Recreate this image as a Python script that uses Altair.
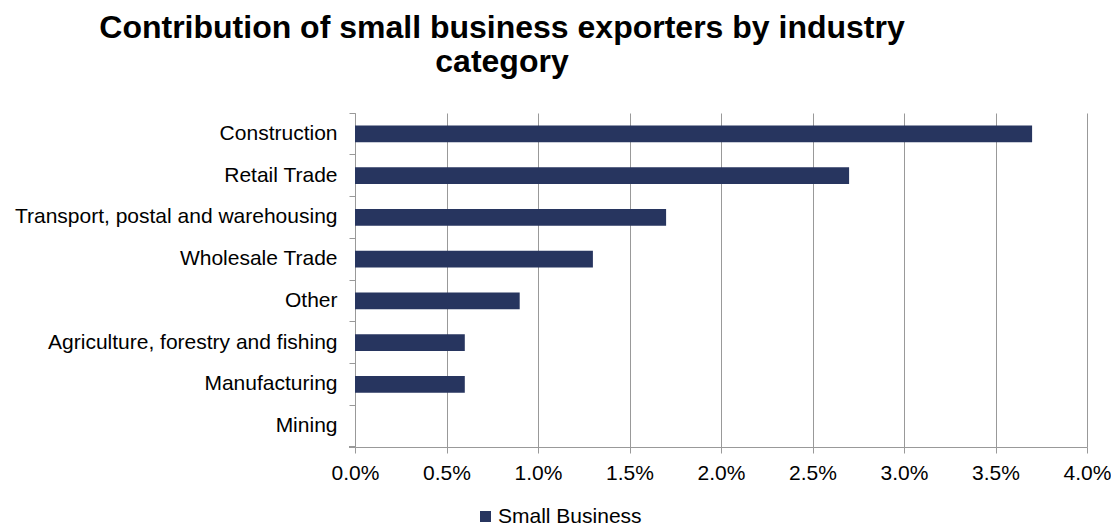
import altair as alt
import pandas as pd

categories = [
    "Construction",
    "Retail Trade",
    "Transport, postal and warehousing",
    "Wholesale Trade",
    "Other",
    "Agriculture, forestry and fishing",
    "Manufacturing",
    "Mining",
]
values = [0.037, 0.027, 0.017, 0.013, 0.009, 0.006, 0.006, 0.0]
series = ["Small Business"] * len(categories)
x_ticks = [0.0, 0.005, 0.01, 0.015, 0.02, 0.025, 0.03, 0.035, 0.04]

df = pd.DataFrame({"Industry": categories, "Share": values, "Series": series})

FONT = "Liberation Sans"
GRAY = "#999999"
NAVY = "#27355f"

PLOT_W = 732
PLOT_H = 334

bars = alt.Chart(df).mark_bar(color=NAVY).encode(
    y=alt.Y(
        "Industry:N",
        sort=categories,
        scale=alt.Scale(paddingInner=0.6, paddingOuter=0.3),
        axis=alt.Axis(
            title=None,
            grid=False,
            labelFontSize=21,
            labelFont=FONT,
            labelColor="black",
            labelLimit=500,
            labelPadding=12,
            tickSize=6,
            tickColor=GRAY,
            domainColor=GRAY,
            bandPosition=-0.75,
        ),
    ),
    x=alt.X(
        "Share:Q",
        scale=alt.Scale(domain=[0, 0.04], nice=False),
        axis=alt.Axis(
            title=None,
            values=x_ticks,
            format=".1%",
            grid=True,
            gridColor=GRAY,
            domainColor=GRAY,
            tickColor=GRAY,
            tickSize=6,
            labelFontSize=21,
            labelFont=FONT,
            labelColor="black",
            labelPadding=9,
            labelFlush=False,
        ),
    ),
    color=alt.Color(
        "Series:N",
        scale=alt.Scale(domain=["Small Business"], range=[NAVY]),
        legend=alt.Legend(
            title=None,
            orient="none",
            legendX=120,
            legendY=393,
            symbolType="square",
            symbolSize=121,
            symbolStrokeWidth=0,
            labelFontSize=21,
            labelFont=FONT,
            labelColor="black",
            labelOffset=2,
            padding=0,
        ),
    ),
)

tick_bottom = alt.Chart(df).mark_rule(color=GRAY).encode(
    x=alt.value(-6), x2=alt.value(0), y=alt.value(PLOT_H)
)

chart = (
    alt.layer(bars, tick_bottom)
    .properties(
        width=PLOT_W,
        height=PLOT_H,
        title=alt.TitleParams(
            text=["Contribution of small business exporters by industry", "category"],
            font=FONT,
            fontSize=32,
            fontWeight="bold",
            color="black",
            anchor="middle",
            frame="group",
            dx=-219,
            offset=34,
            lineHeight=34,
        ),
        autosize=alt.AutoSizeParams(type="none"),
        padding={"left": 347, "top": 105, "right": 24, "bottom": 81},
    )
    .configure_view(stroke=None)
)

chart.save("out.html", embed_options={"renderer": "svg", "actions": False})
